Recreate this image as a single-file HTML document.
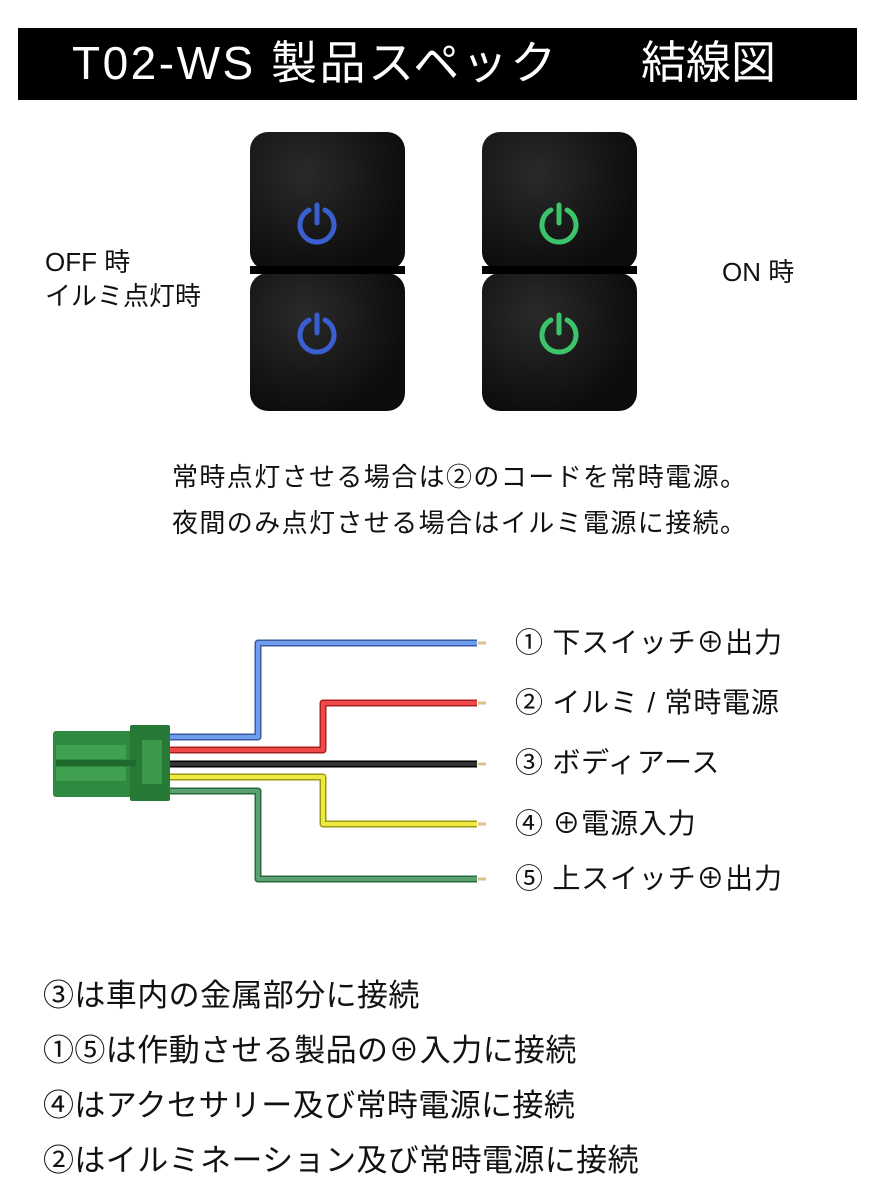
<!DOCTYPE html>
<html><head><meta charset="utf-8"><style>
body{margin:0;width:873px;height:1200px;background:#fff;position:relative;overflow:hidden;font-family:"Liberation Sans","Noto Sans CJK JP",sans-serif;color:#111}
.a{position:absolute;white-space:nowrap}
.sw{position:absolute;width:155px;height:138px;border-radius:18px;background:radial-gradient(ellipse at 35% 30%,#2a2a2a,#0c0c0c 75%)}
.lb{position:absolute;white-space:nowrap;left:515px;font-size:28px;line-height:34px;letter-spacing:0.8px}
</style></head><body>
<div class="a" style="left:18px;top:28px;width:839px;height:72px;background:#000"></div>
<div class="a" style="left:72px;top:35px;font-size:46px;color:#fff;line-height:56px;letter-spacing:2.5px">T02-WS 製品スペック</div>
<div class="a" style="left:641px;top:35px;font-size:45px;color:#fff;line-height:56px">結線図</div>

<div class="a" style="left:45px;top:245px;font-size:26px;line-height:34px">OFF 時<br>イルミ点灯時</div>
<div class="a" style="left:722px;top:255px;font-size:26px;line-height:34px">ON 時</div>

<div class="sw" style="left:250px;top:132px"></div>
<div class="sw" style="left:250px;top:273px"></div>
<div class="a" style="left:250px;top:266px;width:155px;height:8px;background:#000"></div>
<div class="sw" style="left:482px;top:132px"></div>
<div class="sw" style="left:482px;top:273px"></div>
<div class="a" style="left:482px;top:266px;width:155px;height:8px;background:#000"></div>
<svg class="a" style="left:0;top:0" width="873" height="1200">
<g fill="none" stroke-width="5" stroke-linecap="round">
<g stroke="#3a5fd0"><path d="M317 205 v18"/><path d="M309 210 a17 17 0 1 0 16 0"/><path d="M317 315 v18"/><path d="M309 320 a17 17 0 1 0 16 0"/></g>
<g stroke="#3cc46a"><path d="M559 205 v18"/><path d="M551 210 a17 17 0 1 0 16 0"/><path d="M559 315 v18"/><path d="M551 320 a17 17 0 1 0 16 0"/></g>
</g>
<g fill="none" stroke-linejoin="round">
<g stroke-width="7">
<path stroke="#3a5aa0" d="M170 737 H258 V643 H477"/>
<path stroke="#a82020" d="M170 750 H323 V703 H477"/>
<path stroke="#000" d="M170 764 H477"/>
<path stroke="#9a9a10" d="M170 777 H323 V824 H477"/>
<path stroke="#2a6a3a" d="M170 791 H258 V879 H477"/>
</g>
<g stroke-width="4">
<path stroke="#6f9ef0" d="M170 737 H258 V643 H477"/>
<path stroke="#f04848" d="M170 750 H323 V703 H477"/>
<path stroke="#333" d="M170 764 H477"/>
<path stroke="#ecea40" d="M170 777 H323 V824 H477"/>
<path stroke="#5aa070" d="M170 791 H258 V879 H477"/>
</g>
<g stroke="#d8c090" stroke-width="3"><path d="M478 643h8M478 703h8M478 764h8M478 824h8M478 879h8"/></g>
</g>
<rect x="53" y="731" width="80" height="66" rx="3" fill="#2e8a3e"/>
<rect x="130" y="725" width="40" height="76" rx="2" fill="#277a36"/>
<rect x="142" y="740" width="20" height="44" fill="#3a9a4a"/>
<rect x="56" y="745" width="70" height="14" fill="#3fa050"/>
<rect x="56" y="767" width="70" height="14" fill="#3fa050"/>
<rect x="56" y="760" width="80" height="6" fill="#1e6a2c"/>
</svg>

<div class="a" style="left:172px;top:454px;font-size:26px;line-height:46px;letter-spacing:1.4px">常時点灯させる場合は②のコードを常時電源。<br>夜間のみ点灯させる場合はイルミ電源に接続。</div>

<div class="lb" style="top:626px">① 下スイッチ⊕出力</div>
<div class="lb" style="top:686px">② イルミ / 常時電源</div>
<div class="lb" style="top:746px">③ ボディアース</div>
<div class="lb" style="top:807px">④ ⊕電源入力</div>
<div class="lb" style="top:862px">⑤ 上スイッチ⊕出力</div>

<div class="a" style="left:43px;top:968px;font-size:31px;line-height:55px;letter-spacing:0.4px">③は車内の金属部分に接続<br>①⑤は作動させる製品の⊕入力に接続<br>④はアクセサリー及び常時電源に接続<br>②はイルミネーション及び常時電源に接続</div>
</body></html>
